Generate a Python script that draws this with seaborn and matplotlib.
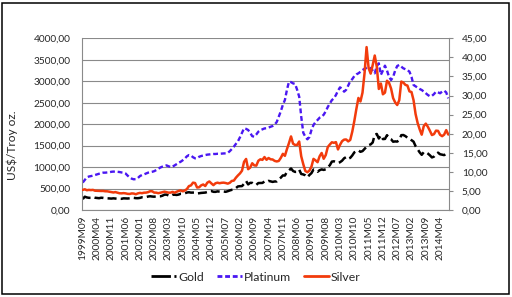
import pandas as pd
import numpy as np
import seaborn as sns
import matplotlib.pyplot as plt
from matplotlib.lines import Line2D
from matplotlib.patches import Rectangle
from matplotlib.ticker import FuncFormatter, MultipleLocator

# monthly prices, 1999M09 - 2014M08
months = pd.period_range("1999-09", "2014-08", freq="M")

gold = [255, 310, 293, 284,
        284, 300, 286, 280, 275, 286, 282, 274, 273, 270, 266, 272,
        266, 262, 263, 261, 272, 270, 268, 273, 283, 283, 276, 275,
        282, 296, 294, 302, 314, 321, 314, 310, 319, 317, 319, 333,
        357, 359, 340, 328, 355, 356, 351, 360, 379, 379, 389, 407,
        414, 405, 406, 403, 384, 392, 398, 401, 406, 420, 439, 442,
        424, 423, 434, 429, 422, 431, 424, 438, 456, 470, 476, 510,
        549, 555, 557, 610, 676, 596, 633, 632, 598, 586, 628, 629,
        631, 665, 655, 679, 667, 655, 665, 665, 712, 754, 806, 803,
        889, 922, 968, 909, 888, 890, 939, 839, 829, 807, 760, 816,
        859, 943, 925, 891, 927, 946, 934, 949, 996, 1043, 1127, 1135,
        1118, 1095, 1114, 1149, 1205, 1233, 1193, 1215, 1271, 1343, 1370, 1391,
        1356, 1372, 1424, 1474, 1510, 1529, 1573, 1756, 1772, 1666, 1739, 1652,
        1656, 1743, 1675, 1649, 1591, 1598, 1594, 1626, 1744, 1747, 1722, 1684,
        1671, 1627, 1593, 1487, 1414, 1343, 1286, 1347, 1349, 1316, 1275, 1225,
        1244, 1300, 1336, 1299, 1288, 1279, 1311, 1296]

platinum = [640, 700, 760, 780, 790, 800, 815, 830, 845, 860, 870, 870,
            875, 880, 890, 895, 893, 890, 885, 875, 870, 850, 800, 760,
            730, 715, 720, 745, 790, 815, 830, 850, 870, 880, 890, 905,
            930, 960, 990, 1010, 1025, 1040, 1020, 1000, 1010, 1040, 1070, 1100,
            1126, 1160, 1200, 1250, 1280, 1270, 1230, 1204, 1210, 1240, 1258, 1270,
            1280, 1290, 1295, 1300, 1305, 1305, 1310, 1310, 1315, 1318, 1320, 1330,
            1370, 1420, 1475, 1540, 1600, 1694, 1800, 1904, 1890, 1864, 1800, 1720,
            1708, 1760, 1825, 1860, 1880, 1900, 1904, 1920, 1940, 1957, 1990, 2050,
            2174, 2300, 2450, 2563, 2800, 2990, 2980, 2950, 2936, 2800, 2640, 2174,
            1800, 1708, 1647, 1700, 1864, 1980, 2050, 2097, 2150, 2174, 2220, 2300,
            2400, 2480, 2560, 2602, 2680, 2780, 2858, 2820, 2757, 2800, 2900, 3000,
            3050, 3120, 3160, 3185, 3220, 3260, 3290, 3310, 3325, 3300, 3250, 3185,
            3350, 3418, 3150, 3250, 3363, 3250, 3100, 3029, 3100, 3250, 3355, 3379,
            3340, 3301, 3280, 3260, 3223, 3100, 2913, 2880, 2850, 2820, 2796, 2760,
            2720, 2680, 2650, 2660, 2700, 2757, 2740, 2720, 2760, 2780, 2740, 2602]

silver = [5.26, 5.44, 5.18, 5.27,
          5.22, 5.27, 5.06, 5.03, 4.99, 4.99, 5.00, 4.91, 4.90, 4.80, 4.70, 4.60,
          4.69, 4.54, 4.39, 4.37, 4.43, 4.36, 4.24, 4.21, 4.35, 4.31, 4.13, 4.36,
          4.48, 4.41, 4.54, 4.56, 4.68, 4.92, 4.91, 4.56, 4.55, 4.41, 4.53, 4.66,
          4.81, 4.67, 4.55, 4.56, 4.75, 4.53, 4.79, 5.00, 5.14, 4.89, 5.13, 5.48,
          6.27, 6.45, 7.17, 7.07, 5.90, 5.96, 6.46, 6.69, 6.29, 7.16, 7.48, 6.97,
          6.52, 7.01, 7.16, 7.02, 7.13, 7.17, 7.07, 6.91, 7.13, 7.62, 7.71, 8.46,
          9.06, 9.59, 10.31, 12.63, 13.38, 10.70, 11.12, 12.25, 11.70, 11.63, 12.91, 13.29,
          13.14, 13.88, 13.16, 13.63, 13.29, 13.24, 12.87, 12.73, 12.86, 13.67, 14.72, 14.20,
          15.96, 17.55, 19.29, 17.38, 17.04, 17.06, 17.95, 14.07, 12.01, 10.23, 9.91, 10.32,
          11.35, 13.40, 13.01, 12.53, 14.08, 14.95, 13.43, 14.40, 16.50, 17.16, 17.75, 17.61,
          17.79, 15.87, 17.09, 18.04, 18.44, 18.49, 17.98, 18.37, 20.55, 23.33, 26.49, 29.37,
          28.45, 30.75, 35.83, 42.70, 37.19, 35.74, 38.00, 40.49, 37.57, 31.73, 33.14, 30.33,
          30.76, 33.88, 33.34, 31.83, 29.33, 28.20, 27.52, 28.77, 33.66, 33.40, 32.80, 32.62,
          31.09, 30.92, 28.79, 25.14, 22.81, 21.15, 19.74, 21.98, 22.64, 21.82, 20.78, 19.65,
          19.88, 20.80, 20.74, 19.71, 19.35, 19.76, 20.94, 19.78]

tick_labels = ["1999M09", "2000M04", "2000M11", "2001M06", "2002M01", "2002M08",
               "2003M03", "2003M10", "2004M05", "2004M12", "2005M07", "2006M02",
               "2006M09", "2007M04", "2007M11", "2008M06", "2009M01", "2009M08",
               "2010M03", "2010M10", "2011M05", "2011M12", "2012M07", "2013M02",
               "2013M09", "2014M04"]

df = pd.DataFrame({"month": [str(m) for m in months], "Gold": gold,
                   "Platinum": platinum, "Silver": silver})
df["pos"] = np.arange(len(df))

sns.set_theme(style="white")
plt.rcParams["font.family"] = ["Lato", "DejaVu Sans"]
plt.rcParams["lines.scale_dashes"] = False

GREY = "#8A8A8A"
C_GOLD, C_PLAT, C_SILV = "black", "#4A17F2", "#F23B0C"
FS = 7.3

fig = plt.figure(figsize=(5.12, 2.97), dpi=100)
ax = fig.add_axes([0.1596, 0.2929, 0.7179, 0.5781])
ax2 = ax.twinx()

sns.lineplot(data=df, x="pos", y="Gold", ax=ax, color=C_GOLD, lw=1.8,
             ls=(0, (6.5, 3)))
sns.lineplot(data=df, x="pos", y="Platinum", ax=ax, color=C_PLAT, lw=1.7,
             ls=(0, (3.5, 2)))
sns.lineplot(data=df, x="pos", y="Silver", ax=ax2, color=C_SILV, lw=1.8)

fmt = FuncFormatter(lambda v, p: f"{v:.2f}".replace(".", ","))

ax.set_xlim(-0.5, len(df) - 0.5)
ax.set_ylim(0, 4000)
ax.yaxis.set_major_locator(MultipleLocator(500))
ax.yaxis.set_major_formatter(fmt)
ax.set_xticks(df["pos"][::7])
ax.set_xticklabels(tick_labels, rotation=90)
ax.grid(axis="y", color=GREY, lw=0.8)
ax.set_xlabel("")
ax.set_ylabel("US$/Troy oz.", fontsize=8.6)
ax.yaxis.set_label_coords(-0.172, 0.379)
ax.tick_params(axis="y", length=0, pad=8, labelsize=FS)
ax.tick_params(axis="x", length=0, pad=4, labelsize=FS)

ax2.set_ylim(0, 45)
ax2.yaxis.set_major_locator(MultipleLocator(5))
ax2.yaxis.set_major_formatter(fmt)
ax2.set_ylabel("")
ax2.tick_params(axis="y", length=3, width=0.8, color=GREY, pad=6, labelsize=FS)

for a in (ax, ax2):
    for side in ("top", "left", "right", "bottom"):
        a.spines[side].set_visible(False)
ax.spines["left"].set_visible(True)
ax.spines["bottom"].set_visible(True)
ax2.spines["right"].set_visible(True)
for s in (ax.spines["left"], ax.spines["bottom"], ax2.spines["right"]):
    s.set_color(GREY)
    s.set_linewidth(0.8)

handles = [Line2D([], [], color=C_GOLD, lw=2.0, ls=(0, (14, 2.5, 1.5, 20))),
           Line2D([], [], color=C_PLAT, lw=2.0, ls=(0, (3.5, 2))),
           Line2D([], [], color=C_SILV, lw=2.0)]
fig.legend(handles, ["Gold", "Platinum", "Silver"], loc="center",
           bbox_to_anchor=(0.5, 0.067), ncol=3, frameon=False, fontsize=8.8,
           handlelength=2.1, handletextpad=0.15, columnspacing=1.0)

fig.patches.append(Rectangle((0.004, 0.010), 0.990, 0.980, transform=fig.transFigure,
                             fill=False, edgecolor="black", lw=1.1))

fig.savefig("out.png", dpi=100)
